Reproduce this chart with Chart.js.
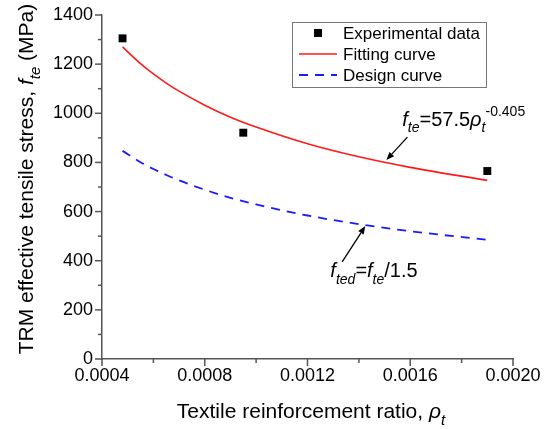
<!DOCTYPE html>
<html><head><meta charset="utf-8">
<script src="https://cdn.jsdelivr.net/npm/chart.js@4"></script>
<style>html,body{margin:0;padding:0;background:#fff}canvas{display:block}</style>
</head><body>
<canvas id="c" width="550" height="429"></canvas>
<script>
// ---- data ----
const seriesLabels = ['Experimental data', 'Fitting curve', 'Design curve'];
const expRatio = [0.00048, 0.00095, 0.0019];
const expStress = [1305, 921, 765];
const curveRatio = [0.00048, 0.00055, 0.0006, 0.00065, 0.0007, 0.0008, 0.0009, 0.0010, 0.0012, 0.0014, 0.0016, 0.0019];
const fitStress = [1270, 1202, 1160, 1123, 1090, 1033, 984, 944, 876, 823, 780, 727];
const designStress = [847, 801, 773, 749, 727, 689, 656, 629, 584, 549, 520, 485];
const xMin = 0.0004, xMax = 0.0020, xStep = 0.0002;
const yMin = 0, yMax = 1400, yStep = 100;
// annotation anchors in data units: [tailX, tailY, tipX, tipY, textX, textY]
const fitNoteAnchor = [0.001589, 903, 0.001507, 810, 0.001569, 950];
const designNoteAnchor = [0.001335, 395, 0.001425, 541, 0.001289, 333];

const FONT = '"Liberation Sans", Arial, sans-serif';
const AXIS = '#555555';

function pts(xs, ys) { return xs.map((x, i) => ({x: x, y: ys[i]})); }

function rich(ctx, x, y, parts, base) {
  for (const p of parts) {
    const size = (p.sub || p.sup) ? Math.round(base * 0.72) : base;
    ctx.font = (p.it ? 'italic ' : '') + size + 'px ' + FONT;
    const dy = p.sub ? base * 0.32 : (p.sup ? -base * 0.5 : 0);
    ctx.fillText(p.t, x, y + dy);
    x += ctx.measureText(p.t).width;
  }
  return x;
}
function richWidth(ctx, parts, base) {
  let w = 0;
  for (const p of parts) {
    const size = (p.sub || p.sup) ? Math.round(base * 0.72) : base;
    ctx.font = (p.it ? 'italic ' : '') + size + 'px ' + FONT;
    w += ctx.measureText(p.t).width;
  }
  return w;
}
function arrow(ctx, x1, y1, x2, y2) {
  ctx.save();
  ctx.strokeStyle = '#000'; ctx.fillStyle = '#000'; ctx.lineWidth = 1.3;
  const a = Math.atan2(y2 - y1, x2 - x1);
  const hl = 8, hw = 3.2;
  const bx = x2 - hl * Math.cos(a), by = y2 - hl * Math.sin(a);
  ctx.beginPath(); ctx.moveTo(x1, y1); ctx.lineTo(bx, by); ctx.stroke();
  ctx.beginPath();
  ctx.moveTo(x2, y2);
  ctx.lineTo(bx + hw * Math.sin(a), by - hw * Math.cos(a));
  ctx.lineTo(bx - hw * Math.sin(a), by + hw * Math.cos(a));
  ctx.closePath(); ctx.fill();
  ctx.restore();
}

const decor = {
  id: 'decor',
  afterDraw(chart) {
    const ctx = chart.ctx, xs = chart.scales.x, ys = chart.scales.y, ca = chart.chartArea;
    ctx.save();
    // tick marks (major long, minor short), outward
    ctx.strokeStyle = AXIS; ctx.lineWidth = 1.5;
    xs.ticks.forEach(t => {
      const px = xs.getPixelForValue(t.value);
      const major = Math.round(t.value / xStep) % 2 === 0;
      ctx.beginPath(); ctx.moveTo(px, ca.bottom); ctx.lineTo(px, ca.bottom + (major ? 7 : 4)); ctx.stroke();
    });
    ys.ticks.forEach(t => {
      const py = ys.getPixelForValue(t.value);
      const major = Math.round(t.value / yStep) % 2 === 0;
      ctx.beginPath(); ctx.moveTo(ca.left, py); ctx.lineTo(ca.left - (major ? 7 : 4), py); ctx.stroke();
    });
    // axis titles
    ctx.fillStyle = '#000'; ctx.textBaseline = 'alphabetic'; ctx.textAlign = 'left';
    const xt = [{t: 'Textile reinforcement ratio, '}, {t: '\u03C1', it: 1}, {t: 't', it: 1, sub: 1}];
    const wx = richWidth(ctx, xt, 21);
    rich(ctx, 311 - wx / 2, 418, xt, 21);
    const yt = [{t: 'TRM effective tensile stress, '}, {t: 'f', it: 1}, {t: 'te', it: 1, sub: 1}, {t: ' (MPa)'}];
    const wy = richWidth(ctx, yt, 21);
    ctx.save(); ctx.translate(33, 179); ctx.rotate(-Math.PI / 2);
    rich(ctx, -wy / 2, 0, yt, 21);
    ctx.restore();
    // annotations
    const P = (x, y) => [xs.getPixelForValue(x), ys.getPixelForValue(y)];
    let a = fitNoteAnchor, t1 = P(a[0], a[1]), t2 = P(a[2], a[3]), tp = P(a[4], a[5]);
    arrow(ctx, t1[0], t1[1], t2[0], t2[1]);
    rich(ctx, tp[0], tp[1], [{t: 'f', it: 1}, {t: 'te', it: 1, sub: 1}, {t: '=57.5'}, {t: '\u03C1', it: 1}, {t: 't', it: 1, sub: 1}, {t: '-0.405', sup: 1}], 20);
    a = designNoteAnchor; t1 = P(a[0], a[1]); t2 = P(a[2], a[3]); tp = P(a[4], a[5]);
    arrow(ctx, t1[0], t1[1], t2[0], t2[1]);
    rich(ctx, tp[0], tp[1], [{t: 'f', it: 1}, {t: 'ted', it: 1, sub: 1}, {t: '='}, {t: 'f', it: 1}, {t: 'te', it: 1, sub: 1}, {t: '/1.5'}], 20);
    // legend
    const L = 292, T = 22, W = 194, H = 65;
    ctx.fillStyle = '#fff'; ctx.fillRect(L, T, W, H);
    ctx.strokeStyle = '#777'; ctx.lineWidth = 1; ctx.strokeRect(L + 0.5, T + 0.5, W, H);
    ctx.font = '17px ' + FONT; ctx.textBaseline = 'middle'; ctx.fillStyle = '#000';
    chart.data.datasets.forEach((ds, i) => {
      const cy = T + 11 + i * 21;
      if (ds.showLine === false) {
        ctx.fillStyle = ds.backgroundColor; ctx.fillRect(314, cy - 4, 8, 8);
      } else {
        ctx.save(); ctx.strokeStyle = ds.borderColor; ctx.lineWidth = ds.borderWidth;
        ctx.setLineDash(ds.borderDash || []);
        ctx.beginPath(); ctx.moveTo(299, cy); ctx.lineTo(337, cy); ctx.stroke(); ctx.restore();
      }
      ctx.fillStyle = '#000'; ctx.fillText(ds.label, 343, cy + 1);
    });
    ctx.restore();
  }
};

new Chart(document.getElementById('c'), {
  type: 'scatter',
  data: {
    datasets: [
      {label: seriesLabels[0], data: pts(expRatio, expStress), showLine: false,
       pointStyle: 'rect', pointRadius: 5.6, pointBorderWidth: 0,
       backgroundColor: '#000', borderColor: '#000'},
      {label: seriesLabels[1], data: pts(curveRatio, fitStress), showLine: true,
       borderColor: '#ff1a1a', backgroundColor: '#ff1a1a', borderWidth: 1.6, pointRadius: 0,
       cubicInterpolationMode: 'monotone'},
      {label: seriesLabels[2], data: pts(curveRatio, designStress), showLine: true,
       borderColor: '#1a1aff', backgroundColor: '#1a1aff', borderWidth: 1.8, borderDash: [9, 7], pointRadius: 0,
       cubicInterpolationMode: 'monotone'}
    ]
  },
  options: {
    responsive: false, maintainAspectRatio: false, animation: false,
    layout: {padding: {left: 0, top: 15, right: 37, bottom: 0}},
    plugins: {legend: {display: false}, tooltip: {enabled: false}},
    scales: {
      x: {
        type: 'linear', min: xMin, max: xMax,
        afterFit: s => { s.height = 70; s.paddingLeft = 0; s.paddingRight = 0; },
        ticks: {stepSize: xStep, padding: 6, color: '#000', font: {family: FONT, size: 18},
          maxRotation: 0, autoSkip: false,
          callback: v => Math.round(v / xStep) % 2 === 0 ? v.toFixed(4) : ''},
        grid: {display: true, drawOnChartArea: false, drawTicks: false, color: AXIS},
        border: {display: true, color: AXIS, width: 1.5}
      },
      y: {
        min: yMin, max: yMax,
        afterFit: s => { s.width = 102; s.paddingTop = 0; s.paddingBottom = 0; },
        ticks: {stepSize: yStep, padding: 9, color: '#000', font: {family: FONT, size: 18}, autoSkip: false,
          callback: v => Math.round(v / yStep) % 2 === 0 ? String(v) : ''},
        grid: {display: true, drawOnChartArea: false, drawTicks: false, color: AXIS},
        border: {display: true, color: AXIS, width: 1.5}
      }
    }
  },
  plugins: [decor]
});
</script>
</body></html>
